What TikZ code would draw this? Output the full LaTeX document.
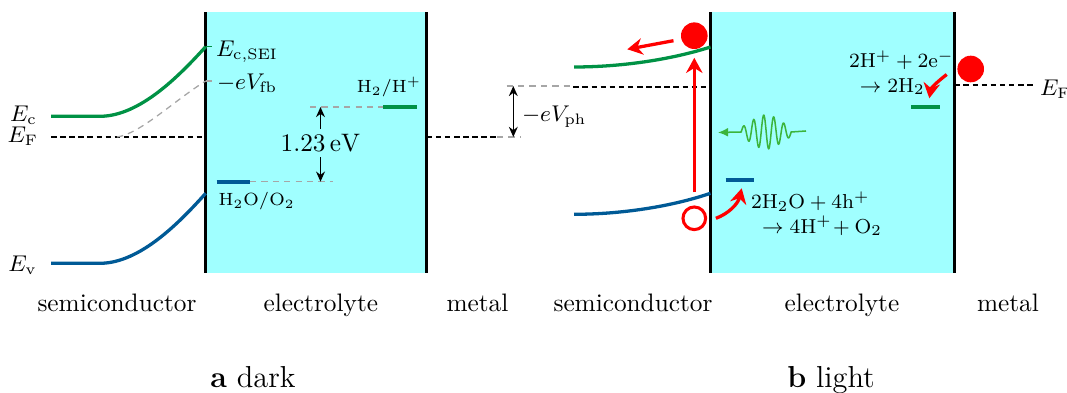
\documentclass[tikz,border=0pt]{standalone}
\usepackage{amsmath,amssymb}
\usepackage{tikz}
\usetikzlibrary{arrows.meta}
\usepackage{xcolor}
\definecolor{cbgreen}{RGB}{0,146,69}
\definecolor{vbblue}{RGB}{0,90,150}
\definecolor{elytecol}{RGB}{160,255,255}
\definecolor{photongreen}{RGB}{60,180,60}

\tikzset{
  electrolyte/.style={fill=elytecol},
  wall/.style={line width=1pt},
  cband/.style={cbgreen,line width=1.3pt},
  vband/.style={vbblue,line width=1.3pt},
  fermi/.style={line width=0.8pt,dash pattern=on 2.2pt off 1.4pt},
  guide/.style={gray!70,line width=0.5pt,dash pattern=on 2.5pt off 2pt},
  redox/.style={line width=1.6pt},
  dimarrow/.style={line width=0.6pt,-{Stealth[length=4pt,width=3.5pt]}},
  carrier/.style={red,line width=1.3pt,-{Stealth[length=6pt,width=6.5pt]}},
  photon/.style={photongreen,line width=0.6pt,-{Latex[length=4pt,width=3.5pt]}},
  edot/.style={circle,fill=red,inner sep=0pt,minimum size=0.37cm},
  hole/.style={circle,draw=red,line width=1.2pt,fill=white,inner sep=0pt,minimum size=0.315cm},
  elabel/.style={font=\small,inner sep=1pt},
  rxn/.style={font=\footnotesize,inner sep=1pt,align=left},
  region/.style={anchor=base},
}

\begin{document}
\begin{tikzpicture}[x=0.0139cm,y=-0.0139cm]
\useasboundingbox (0,0) rectangle (1067,393);

%% (a) dark
\fill[electrolyte] (205.7,12.3) rectangle (426.7,273.3);
\draw[wall] (205.7,12.3) -- (205.7,273.3);
\draw[wall] (426.7,12.3) -- (426.7,273.3);

\coordinate (aCsei) at (205.7,46.7);
\coordinate (aFb) at (205.7,81);
\draw[fermi] (51,137) -- (205.7,137);
\draw[guide] (117,137) .. controls (140,134) and (175,100) .. (aFb);
\draw[cband] (51,116.3) -- (100,116.3) .. controls (140,116.3) and (180,75) .. (aCsei);
\draw[vband] (51,263.3) -- (100,263.3) .. controls (140,263.3) and (180,222) .. (205.7,193.3);
\draw[cbgreen,line width=0.6pt] (aCsei) -- (212,46.7);
\draw[guide] (aFb) -- (212,81);

\node[elabel,anchor=base east] (aEc) at (40,122) {$E_{\mathrm{c}}$};
\node[elabel,anchor=base east] (aEf) at (41,143) {$E_{\mathrm{F}}$};
\node[elabel,anchor=base east] (aEv) at (40,272) {$E_{\mathrm{v}}$};
\node[elabel,anchor=base west] (aEsei) at (213,57) {$E_{\mathrm{c,SEI}}$};
\node[elabel,anchor=base west] (aVfb) at (214,90) {$-eV_{\mathrm{fb}}$};

% redox levels
\coordinate (oxL) at (216.7,181.7);
\coordinate (oxR) at (250,181.7);
\coordinate (redL) at (383.3,107);
\coordinate (redR) at (417.3,107);
\draw[redox,vbblue] (oxL) -- (oxR);
\draw[guide] (oxR) -- (333.3,181.7);
\draw[redox,cbgreen] (redL) -- (redR);
\draw[guide] (310,107) -- (redL);
\node[font=\scriptsize,anchor=base] (oxname) at (256.7,206) {$\mathrm{H_2O/O_2}$};
\node[font=\scriptsize,anchor=base] (redname) at (389,93) {$\mathrm{H_2/H^+}$};

\node[inner sep=2pt] (gapval) at (320.5,143) {$1.23\,\mathrm{eV}$};
\draw[dimarrow] (gapval.north) -- (320.5,107);
\draw[dimarrow] (gapval.south) -- (320.5,181.7);

% metal and photovoltage
\draw[fermi] (426.7,137) -- (497,137);
\draw[guide] (497,137) -- (521,137);
\draw[guide] (506.7,86) -- (573.3,86);
\coordinate (phTop) at (513.3,86);
\coordinate (phBot) at (513.3,137);
\draw[dimarrow,{Stealth[length=4pt,width=3.5pt]}-{Stealth[length=4pt,width=3.5pt]}] (phTop) -- (phBot);
\node[elabel,anchor=base west] (bVph) at (519,122) {$-eV_{\mathrm{ph}}$};

\node[region] (aSemi) at (117,312) {semiconductor};
\node[region] (aElyte) at (320.8,312) {electrolyte};
\node[region] (aMetal) at (477.5,312) {metal};
\node[region,font=\large] (capA) at (253,388) {\textbf{a} dark};

%% (b) light
\fill[electrolyte] (710.5,12.3) rectangle (954.3,273.3);
\draw[wall] (710.5,12.3) -- (710.5,273.3);
\draw[wall] (954.3,12.3) -- (954.3,273.3);

\draw[fermi] (573.3,86.7) -- (710.5,86.7);
\draw[cband] (574,67) .. controls (620,67) and (670,60) .. (710.5,47);
\draw[vband] (574,214.3) .. controls (620,214.3) and (670,207) .. (710.5,193.3);

\node[edot] (el) at (694.3,35.7) {};
\node[hole] (hl) at (694.3,218.3) {};
\coordinate (elOut) at (627.3,49.3);
\draw[carrier] ([yshift=0.18cm]hl.north) -- ([yshift=-0.115cm]el.south);
\draw[carrier] ([shift={(-7,5)}]el.west) -- (elOut);

% light in
\coordinate (lightIn) at (806,131);
\coordinate (lightOut) at (718,132.5);
\draw[photon] (lightIn) -- (791.2,132)
  -- plot[domain=791.2:741.2,samples=200] (\x,{132-17*exp(-((\x-766)/22)^2)*cos(36*(\x-763.7))})
  -- (lightOut);

% oxidation at the surface
\coordinate (oxTip) at (741.7,188.3);
\draw[redox,vbblue] (725.7,180.3) -- (754,180.3);
\draw[carrier] ([xshift=0.3cm]hl.center) .. controls (728,214) and (738,204) .. (oxTip);
\node[rxn,anchor=west] (oxEq) at (748,214)
  {$2\mathrm{H_2O} + 4\mathrm{h}^+$\\\hspace*{4.4pt}$\rightarrow 4\mathrm{H}^+\!+\mathrm{O_2}$};

% reduction at the metal
\node[edot] (em) at (970.7,69) {};
\coordinate (redTip) at (929.3,98.3);
\draw[redox,cbgreen] (911,107) -- (940,107);
\draw[carrier] ([shift={(-24,5.5)}]em.center) .. controls (937,82) and (931,88) .. (redTip);
\node[rxn,anchor=west] (redEq) at (846,73)
  {$2\mathrm{H}^+ + 2\mathrm{e}^-$\\\hspace*{4.3pt}$\rightarrow 2\mathrm{H_2}$};

\draw[fermi] (954.3,85.3) -- (1033,85.3);
\node[elabel,anchor=base west] (bEf) at (1037,96) {$E_{\mathrm{F}}$};

\node[region] (bSemi) at (633,312) {semiconductor};
\node[region] (bElyte) at (842,312) {electrolyte};
\node[region] (bMetal) at (1008,312) {metal};
\node[region,font=\large] (capB) at (831,388) {\textbf{b} light};
\end{tikzpicture}
\end{document}
